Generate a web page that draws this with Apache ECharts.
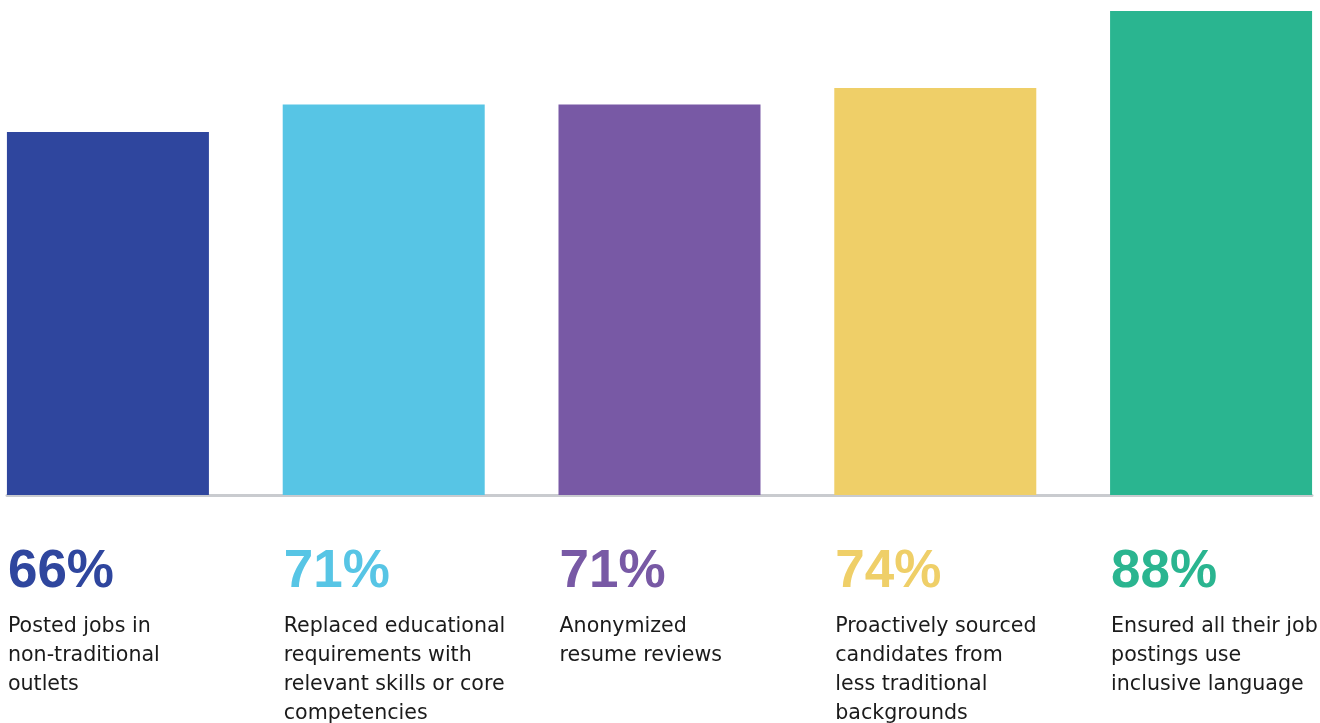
<!DOCTYPE html>
<html>
<head>
<meta charset="utf-8">
<script src="https://cdn.jsdelivr.net/npm/echarts@6/dist/echarts.min.js"></script>
<style>
  html, body { margin: 0; padding: 0; background: #ffffff; }
  #chart { width: 1320px; height: 723px; }
</style>
</head>
<body>
<div id="chart"></div>
<script>
// Share of organisations taking each inclusive-hiring action
const categories = [
  'Posted jobs in\nnon-traditional\noutlets',
  'Replaced educational\nrequirements with\nrelevant skills or core\ncompetencies',
  'Anonymized\nresume reviews',
  'Proactively sourced\ncandidates from\nless traditional\nbackgrounds',
  'Ensured all their job\npostings use\ninclusive language'
];
const values = [66, 71, 71, 74, 88];
const colors = ['#2f469e', '#57c5e5', '#7859a5', '#efcf68', '#2ab590'];

const chart = echarts.init(document.getElementById('chart'));

// Each bar sits at its category index on a numeric x axis so the
// baseline can stop at the outer bar edges.
const seriesData = values.map((v, i) => ({
  value: [i, v],
  itemStyle: { color: colors[i] },
  label: {
    rich: {
      pct: { fontFamily: 'Liberation Sans', fontSize: 53, fontWeight: 'bold', fontStyle: 'normal', color: colors[i], lineHeight: 80 },
      desc: { fontFamily: 'DejaVu Sans', fontSize: 20.6, fontStyle: 'normal', color: '#1b1b1b', lineHeight: 29 }
    }
  }
}));

chart.setOption({
  animation: false,
  grid: { left: 7, right: 8, top: 11, bottom: 228 },
  xAxis: {
    type: 'value',
    min: -101 / 276,
    max: 4 + 101 / 276,
    axisLine: { show: true, lineStyle: { color: '#c9cbcf', width: 3 } },
    axisTick: { show: false },
    axisLabel: { show: false },
    splitLine: { show: false }
  },
  yAxis: {
    type: 'value',
    min: 0,
    max: 88,
    show: false,
    splitLine: { show: false }
  },
  series: [{
    type: 'bar',
    barWidth: 202,
    data: seriesData,
    label: {
      show: true,
      position: [0, '100%'],
      offset: [1, 37],
      align: 'left',
      verticalAlign: 'top',
      formatter: p => {
        const i = p.value[0];
        const lines = categories[i].split('\n').map(l => '{desc|' + l + '}').join('\n');
        return '{pct|' + values[i] + '%}\n' + lines;
      }
    }
  }]
});
</script>
</body>
</html>
